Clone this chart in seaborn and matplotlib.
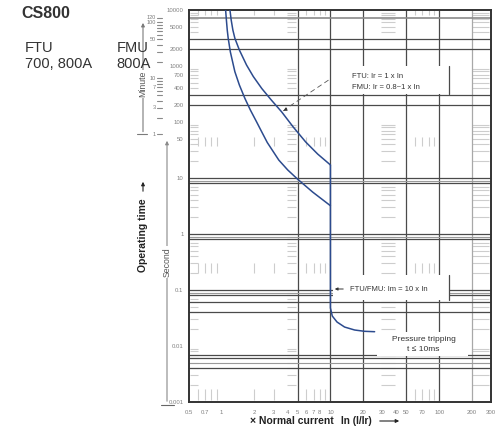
import numpy as np
import pandas as pd
import matplotlib
matplotlib.use("Agg")
import matplotlib.pyplot as plt
import matplotlib.transforms as mtransforms
from matplotlib.lines import Line2D
from matplotlib.patches import Rectangle, FancyArrowPatch
from matplotlib.ticker import NullLocator, NullFormatter
import seaborn as sns

# ---- characteristic curves: multiple of In  vs  operating time [s] ----
ftu_current = [1.19, 1.222, 1.266, 1.321, 1.453, 1.691, 1.952, 2.337, 2.857,
               3.565, 4.547, 5.92, 7.63, 10.0]
ftu_time = [10000, 6630, 4394, 3125, 1931, 1042, 649, 396, 247,
            151, 81.4, 44, 26.8, 17.1]

fmu_current = [1.086, 1.104, 1.124, 1.147, 1.201, 1.321, 1.453, 1.632, 1.833,
               2.09, 2.337, 2.625, 3.35, 4.05, 4.97, 6.87, 10.0]
fmu_time = [10000, 6630, 4394, 3125, 1778, 791, 458, 265, 164,
            101, 66.3, 43, 20.9, 13.9, 9.6, 5.6, 3.2]

inst_current = [10.0, 10.0, 10.4, 11.5, 13.5, 16.7, 20.6, 25.5]
inst_time = [17.1, 0.0478, 0.0343, 0.0268, 0.0218, 0.0193, 0.0183, 0.0180]

# ---- axis ticks ----
x_ticks = [0.5, 0.7, 1, 2, 3, 4, 5, 6, 7, 8, 10, 20, 30, 40, 50, 70, 100, 200, 300]
x_tick_labels = ["0.5", "0.7", "1", "2", "3", "4", "5", "6", "7", "8", "10",
                 "20", "30", "40", "50", "70", "100", "200", "300"]
y_ticks = [10000, 5000, 2000, 1000, 700, 400, 200, 100, 50, 10, 1, 0.1, 0.01, 0.001]
y_tick_labels = ["10000", "5000", "2000", "1000", "700", "400", "200", "100", "50",
                 "10", "1", "0.1", "0.01", "0.001"]
minute_ticks = [1, 2, 3, 4, 5, 6, 7, 8, 9, 10, 20, 30, 40, 50, 60, 70, 80, 90, 100, 120]
minute_labels = {120: "120", 100: "100", 50: "50", 10: "10", 7: "7", 3: "3", 1: "1"}

# ---- grid ----
grid_x_dark = [5, 10, 20, 50, 100]
grid_x_light = [200]
grid_y_dark = [3000, 2000, 300, 200, 10, 8, 1.0, 0.8, 0.1, 0.08, 0.06, 0.04,
               0.007, 0.006, 0.004]
grid_y_mid = [7200]
grid_y_light = [9, 0.9, 0.09, 0.005]

W, H = 504, 440
CURVE = "#2c4b8e"
DARK = "#4a4a4a"
LIGHT = "#cdcdcd"

sns.set_style("white")
plt.rcParams["font.family"] = ["Liberation Sans", "DejaVu Sans"]


def fx(px):
    return px / W


def fy(py):
    return 1 - py / H


fig = plt.figure(figsize=(W / 100, H / 100), dpi=100)
ax = fig.add_axes([fx(189), fy(402), 302 / W, 392 / H])
ax.set_xscale("log")
ax.set_yscale("log")
ax.set_xlim(0.5, 300)
ax.set_ylim(0.001, 10000)

# faint minor "ladder" marks
decades = [0.001, 0.01, 0.1, 1, 10, 100, 1000]
ladder_y = []
for d in decades:
    ks = range(4, 10) if d >= 100 else range(2, 10)
    ladder_y += [k * d for k in ks]
for x0, x1 in [(0.51, 0.6), (3.95, 4.85), (29, 39), (200, 290)]:
    ax.hlines(ladder_y, x0, x1, color=LIGHT, lw=0.8, zorder=1)
ladder_x = [0.6, 0.7, 0.8, 0.9, 2, 3, 6, 7, 8, 9, 60, 70, 80, 90]
for y0, y1 in [(8000, 10000), (38, 55), (0.2, 0.3), (0.0011, 0.0017)]:
    ax.vlines(ladder_x, y0, y1, color=LIGHT, lw=0.8, zorder=1)

for v in grid_x_dark:
    ax.axvline(v, color=DARK, lw=0.9, zorder=2)
for v in grid_x_light:
    ax.axvline(v, color="#a8a8a8", lw=0.9, zorder=2)
for v in grid_y_dark:
    ax.axhline(v, color=DARK, lw=0.9, zorder=2)
for v in grid_y_mid:
    ax.axhline(v, color="#8a8a8a", lw=1.2, zorder=2)
for v in grid_y_light:
    ax.axhline(v, color="#9a9a9a", lw=0.8, zorder=2)

# curves
df_ftu = pd.DataFrame({"I": ftu_current, "t": ftu_time})
df_fmu = pd.DataFrame({"I": fmu_current, "t": fmu_time})
df_inst = pd.DataFrame({"I": inst_current, "t": inst_time})
for df in (df_ftu, df_fmu, df_inst):
    sns.lineplot(data=df, x="I", y="t", ax=ax, color=CURVE, lw=1.1,
                 sort=False, estimator=None, zorder=4)

ax.set_xlabel("")
ax.set_ylabel("")
ax.set_xticks(x_ticks, labels=x_tick_labels)
ax.set_yticks(y_ticks, labels=y_tick_labels)
for axis in (ax.xaxis, ax.yaxis):
    axis.set_minor_locator(NullLocator())
    axis.set_minor_formatter(NullFormatter())
ax.tick_params(axis="both", length=0, labelsize=4.3, labelcolor="#808080")
ax.tick_params(axis="x", pad=6)
ax.tick_params(axis="y", pad=4)
for s in ax.spines.values():
    s.set_color("#333333")
    s.set_linewidth(1.4)
    s.set_visible(True)


# annotation boxes
def white_box(x0, y0, x1, y1, right_edge=True):
    fig.add_artist(Rectangle((fx(x0), fy(y1)), fx(x1) - fx(x0), fy(y0) - fy(y1),
                             transform=fig.transFigure, fc="white", ec="none", zorder=5))
    if right_edge:
        fig.add_artist(Line2D([fx(x1), fx(x1)], [fy(y0), fy(y1)], color=DARK, lw=0.9,
                              transform=fig.transFigure, zorder=6))


white_box(336, 66, 449, 94)
white_box(333, 275, 449, 300)
white_box(377, 332, 468, 356, right_edge=False)

tkw = dict(color="#333333", zorder=7)
fig.text(fx(352), fy(76), "FTU: Ir = 1 x In", fontsize=5.5, va="center", ha="left", **tkw)
fig.text(fx(352), fy(87.5), "FMU: Ir = 0.8~1 x In", fontsize=5.5, va="center", ha="left", **tkw)
fig.text(fx(350), fy(289), "FTU/FMU: Im = 10 x In", fontsize=5.5, va="center", ha="left", **tkw)
fig.text(fx(423.5), fy(339.5), "Pressure tripping", fontsize=6.0, va="center", ha="center", **tkw)
fig.text(fx(423), fy(349.5), "t \u2264 10ms", fontsize=6.0, va="center", ha="center", **tkw)

# pointer to the FTU curve
ax.plot([9.6, 3.85], [560, 170], ls=(0, (6, 4)), color="#555555", lw=0.6, zorder=6)
ax.annotate("", xy=(3.5, 150), xytext=(3.9, 168),
            arrowprops=dict(arrowstyle="-|>", color="#333333", lw=0.6, mutation_scale=5),
            zorder=6)
# pointer to the instantaneous line
fig.add_artist(FancyArrowPatch(
    (fx(346), fy(289)), (fx(332), fy(289)), transform=fig.transFigure,
    arrowstyle="-|>", mutation_scale=4, color="#333333", lw=0.7, zorder=7))

# minute scale on the left
trans = mtransforms.blended_transform_factory(fig.transFigure, ax.transData)
ax.annotate("", xy=(fx(143), 6600), xytext=(fx(143), 60),
            xycoords=trans, textcoords=trans, annotation_clip=False,
            arrowprops=dict(arrowstyle="-|>", color="#7a7a7a", lw=0.8, mutation_scale=5))
ax.add_line(Line2D([fx(137), fx(147)], [60, 60], transform=trans, color="#7a7a7a",
                   lw=0.8, clip_on=False))
for m in minute_ticks:
    ax.add_line(Line2D([fx(157), fx(162)], [60 * m] * 2, transform=trans,
                       color="#8a8a8a", lw=0.8, clip_on=False))
    if m in minute_labels:
        ax.text(fx(155.5), 60 * m, minute_labels[m], transform=trans, ha="right",
                va="center", fontsize=4.0, color="#7a7a7a")
ax.text(fx(143), 480, "Minute", transform=trans, rotation=90, ha="center", va="center",
        fontsize=6.3, color="#555555",
        bbox=dict(fc="white", ec="none", pad=0.5))

# second scale
fig.add_artist(FancyArrowPatch(
    (fx(167), fy(404)), (fx(167), fy(138)), transform=fig.transFigure,
    arrowstyle="-|>", mutation_scale=5, color="#8a8a8a", lw=0.8))
fig.add_artist(Line2D([fx(161), fx(174)], [fy(405), fy(405)], color="#666666",
                      lw=0.8, transform=fig.transFigure))
fig.text(fx(167), fy(262), "Second", rotation=90, ha="center", va="center",
         fontsize=6.3, color="#555555",
         bbox=dict(fc="white", ec="none", pad=0.6))

# axis titles
fig.text(fx(143), fy(235), "Operating time", rotation=90, ha="center", va="center",
         fontsize=7.5, fontweight="bold", color="#222222")
fig.add_artist(FancyArrowPatch(
    (fx(143), fy(194)), (fx(143), fy(179)), transform=fig.transFigure,
    arrowstyle="-|>", mutation_scale=5, color="#222222", lw=0.8))

fig.text(fx(250), fy(421), "\u00d7 Normal current", ha="left", va="center",
         fontsize=7.5, fontweight="bold", color="#222222")
fig.text(fx(341), fy(421), "In (I/Ir)", ha="left", va="center",
         fontsize=7.3, fontweight="bold", color="#222222")
fig.add_artist(FancyArrowPatch(
    (fx(377), fy(421)), (fx(402), fy(421)), transform=fig.transFigure,
    arrowstyle="-|>", mutation_scale=5, color="#222222", lw=0.8))

# product header
fig.text(fx(21), fy(18), "CS800", fontsize=11.5, fontweight="bold", color="#333333",
         va="baseline", ha="left")
for x0, top, bottom in [(25, "FTU", "700, 800A"), (116.5, "FMU", "800A")]:
    fig.text(fx(x0), fy(52), top, fontsize=10.5, color="#333333", va="baseline", ha="left")
    fig.text(fx(x0), fy(68), bottom, fontsize=10.5, color="#333333", va="baseline", ha="left")

fig.savefig("out.png", dpi=100, facecolor="white")
